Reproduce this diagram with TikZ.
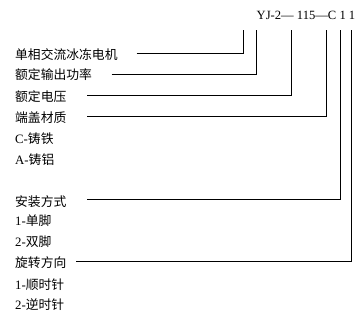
\documentclass[tikz,border=0pt]{standalone}
\usepackage{fontspec}
\setmainfont{Liberation Serif}
\newfontfamily\cjk{Noto Sans CJK SC}
\begin{document}
\begin{tikzpicture}[x=1pt,y=-1pt,
  lbl/.style={anchor=west,inner sep=0pt,font=\fontsize{12.8}{14}\selectfont},
  conn/.style={line width=0.9pt}]
\useasboundingbox (0,0) rectangle (364,316);
\node[anchor=east,inner sep=0pt,font=\fontsize{12.6}{14}\selectfont] (code) at (355.5,15) {YJ-2— 115—C 1 1};
\coordinate (t1) at (243.7,30);
\coordinate (t2) at (256,30);
\coordinate (t3) at (291.7,30);
\coordinate (t4) at (326.7,30);
\coordinate (t5) at (340,30);
\coordinate (t6) at (351.7,30);
\node[lbl] (r1) at (15,54.3) {\cjk 单相交流冰冻电机};
\node[lbl] (r2) at (15,75) {\cjk 额定输出功率};
\node[lbl] (r3) at (15,96.7) {\cjk 额定电压};
\node[lbl] (r4) at (15,117.3) {\cjk 端盖材质};
\node[lbl] (r5) at (15,138.3) {C-{\cjk 铸铁}};
\node[lbl] (r6) at (15,159.3) {A-{\cjk 铸铝}};
\node[lbl] (r7) at (15,201.7) {\cjk 安装方式};
\node[lbl] (r8) at (15,221) {1-{\cjk 单脚}};
\node[lbl] (r9) at (15,241.5) {2-{\cjk 双脚}};
\node[lbl] (r10) at (15,262.7) {\cjk 旋转方向};
\node[lbl] (r11) at (15,284.5) {1-{\cjk 顺时针}};
\node[lbl] (r12) at (15,305) {2-{\cjk 逆时针}};
\coordinate (s1) at (136.7,53.3);
\coordinate (s2) at (111.7,74);
\coordinate (s3) at (87.3,95.3);
\coordinate (s4) at (87.3,116.3);
\coordinate (s7) at (87.3,199.3);
\coordinate (s10) at (76,261.7);
\draw[conn] (s1) -| (t1);
\draw[conn] (s2) -| (t2);
\draw[conn] (s3) -| (t3);
\draw[conn] (s4) -| (t4);
\draw[conn] (s7) -| (t5);
\draw[conn] (s10) -| (t6);
\end{tikzpicture}
\end{document}
